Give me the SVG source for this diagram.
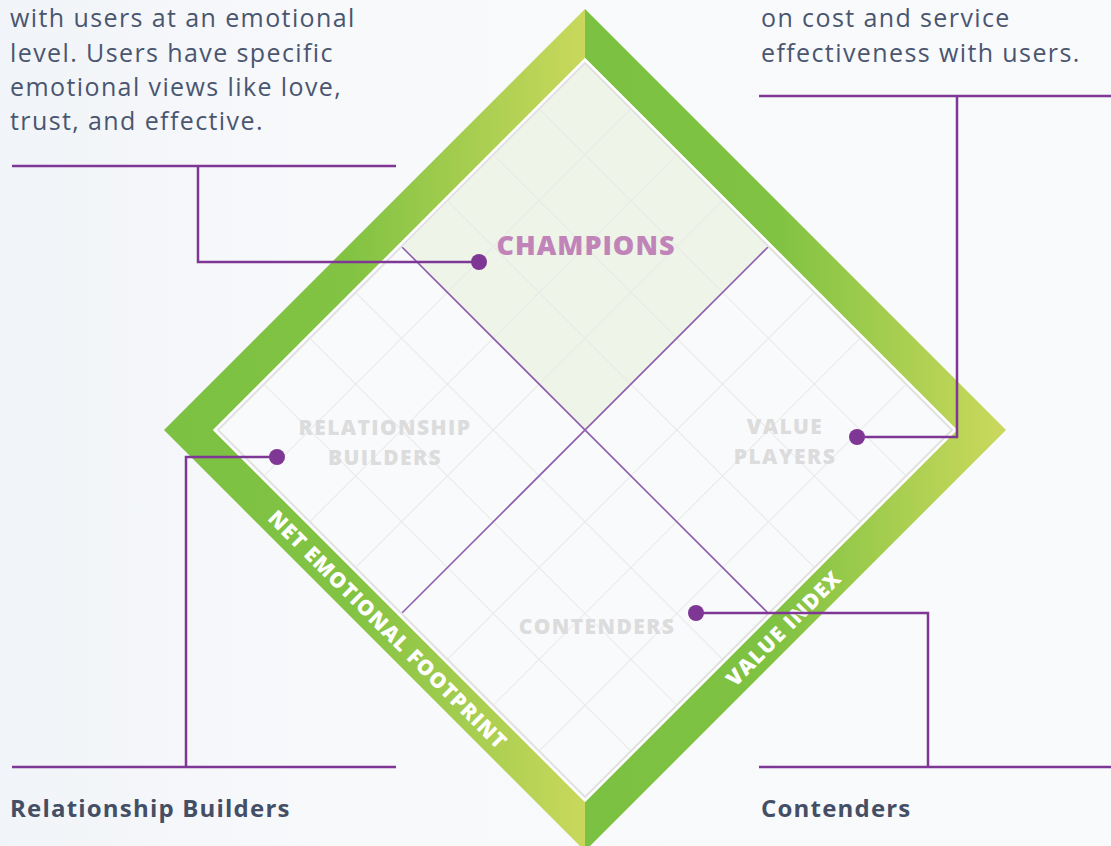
<svg xmlns="http://www.w3.org/2000/svg" width="1111" height="846" viewBox="0 0 1111 846">
  <defs>
    <linearGradient id="bg" x1="0" y1="0" x2="1111" y2="0" gradientUnits="userSpaceOnUse">
      <stop offset="0" stop-color="#f1f4f8"/>
      <stop offset="0.3" stop-color="#f8f9fb"/>
      <stop offset="1" stop-color="#f9fafc"/>
    </linearGradient>
    <linearGradient id="gl" x1="163" y1="0" x2="585" y2="0" gradientUnits="userSpaceOnUse">
      <stop offset="0" stop-color="#7bc142"/>
      <stop offset="0.45" stop-color="#83c343"/>
      <stop offset="1" stop-color="#c9d85c"/>
    </linearGradient>
    <linearGradient id="gr" x1="585" y1="0" x2="1007" y2="0" gradientUnits="userSpaceOnUse">
      <stop offset="0" stop-color="#7bc142"/>
      <stop offset="0.45" stop-color="#80c242"/>
      <stop offset="1" stop-color="#cbd95d"/>
    </linearGradient>
    <style>
      .para { font-family: "Open Sans", "Liberation Sans", sans-serif; font-size: 25px; letter-spacing: 1.4px; fill: #4a5670; }
      .head { font-family: "Open Sans", "Liberation Sans", sans-serif; font-size: 24px; font-weight: 700; letter-spacing: 1.2px; fill: #444f66; }
      .quad { font-family: "Open Sans", "Liberation Sans", sans-serif; font-weight: 800; fill: #dcdcdc; font-size: 21px; letter-spacing: 1.4px; text-anchor: middle; }
      .axis { font-family: "Open Sans", "Liberation Sans", sans-serif; font-weight: 800; fill: #ffffff; font-size: 21px; text-anchor: middle; letter-spacing: 1px; }
      .grid line { stroke: #e8eae6; stroke-width: 1; }
      .conn { fill: none; stroke: #7e3794; stroke-width: 2.5; }
      .dot { fill: #7e3794; }
      .axisline { stroke: #8e5dae; stroke-width: 1.6; }
    </style>
  </defs>

  <rect x="0" y="0" width="1111" height="846" fill="url(#bg)"/>

  <g id="frame">
    <polygon points="585,9 164,430 585,851 585,802 213,430 585,58" fill="url(#gl)"/>
    <polygon points="585,9 1006,430 585,851 585,802 957,430 585,58" fill="url(#gr)"/>
  </g>

  <g id="matrix" transform="translate(585,430) rotate(45)">
    <rect x="-263" y="-263" width="526" height="526" fill="#ffffff"/>
    <rect x="-259.5" y="-259.5" width="519" height="519" fill="#f9fafc" stroke="#e1e1e1" stroke-width="2"/>
    <rect x="-258.5" y="-258.5" width="258.5" height="258.5" fill="#eef4e8"/>
    <g class="grid">
      <line x1="-194.6" y1="-258.5" x2="-194.6" y2="258.5"/>
      <line x1="-129.7" y1="-258.5" x2="-129.7" y2="258.5"/>
      <line x1="-64.9" y1="-258.5" x2="-64.9" y2="258.5"/>
      <line x1="64.9" y1="-258.5" x2="64.9" y2="258.5"/>
      <line x1="129.7" y1="-258.5" x2="129.7" y2="258.5"/>
      <line x1="194.6" y1="-258.5" x2="194.6" y2="258.5"/>
      <line y1="-194.6" x1="-258.5" y2="-194.6" x2="258.5"/>
      <line y1="-129.7" x1="-258.5" y2="-129.7" x2="258.5"/>
      <line y1="-64.9" x1="-258.5" y2="-64.9" x2="258.5"/>
      <line y1="64.9" x1="-258.5" y2="64.9" x2="258.5"/>
      <line y1="129.7" x1="-258.5" y2="129.7" x2="258.5"/>
      <line y1="194.6" x1="-258.5" y2="194.6" x2="258.5"/>
    </g>
    <line class="axisline" x1="-258.5" y1="0" x2="258.5" y2="0"/>
    <line class="axisline" x1="0" y1="-258.5" x2="0" y2="258.5"/>
  </g>

  <g id="champions">
    <text x="586" y="255" font-family="Open Sans, Liberation Sans, sans-serif" font-weight="800" font-size="27" letter-spacing="1" fill="#c084b8" text-anchor="middle">CHAMPIONS</text>
  </g>
  <g id="relationship-builders">
    <text class="quad" x="385" y="435">RELATIONSHIP</text>
    <text class="quad" x="385" y="465">BUILDERS</text>
  </g>
  <g id="value-players">
    <text class="quad" x="785" y="434">VALUE</text>
    <text class="quad" x="785" y="464">PLAYERS</text>
  </g>
  <g id="contenders">
    <text class="quad" x="597" y="634" letter-spacing="1.8">CONTENDERS</text>
  </g>

  <g id="axis-labels">
    <text class="axis" transform="translate(387,629) rotate(45)" x="1" y="7.5">NET EMOTIONAL FOOTPRINT</text>
    <text class="axis" transform="translate(783,629) rotate(-45)" x="1" y="7.5" letter-spacing="1.5">VALUE INDEX</text>
  </g>

  <g id="text-top-left">
    <text class="para" x="10" y="27">with users at an emotional</text>
    <text class="para" x="10" y="62">level. Users have specific</text>
    <text class="para" x="10" y="96">emotional views like love,</text>
    <text class="para" x="10" y="130">trust, and effective.</text>
  </g>
  <g id="text-top-right">
    <text class="para" x="761" y="27">on cost and service</text>
    <text class="para" x="761" y="62">effectiveness with users.</text>
  </g>
  <g id="label-relationship-builders">
    <text class="head" x="10" y="817">Relationship Builders</text>
  </g>
  <g id="label-contenders">
    <text class="head" x="761" y="817">Contenders</text>
  </g>

  <g id="connectors">
    <line class="conn" x1="12" y1="166" x2="396" y2="166"/>
    <polyline class="conn" points="198,166 198,262 479,262"/>
    <circle class="dot" cx="479" cy="262" r="8"/>

    <line class="conn" x1="759" y1="96" x2="1111" y2="96"/>
    <polyline class="conn" points="957,96 957,437 857,437"/>
    <circle class="dot" cx="857" cy="437" r="8"/>

    <line class="conn" x1="12" y1="767" x2="396" y2="767"/>
    <polyline class="conn" points="186,767 186,457 277,457"/>
    <circle class="dot" cx="277" cy="457" r="8"/>

    <line class="conn" x1="759" y1="767" x2="1111" y2="767"/>
    <polyline class="conn" points="928,767 928,613 696,613"/>
    <circle class="dot" cx="696" cy="613" r="8"/>
  </g>
</svg>
